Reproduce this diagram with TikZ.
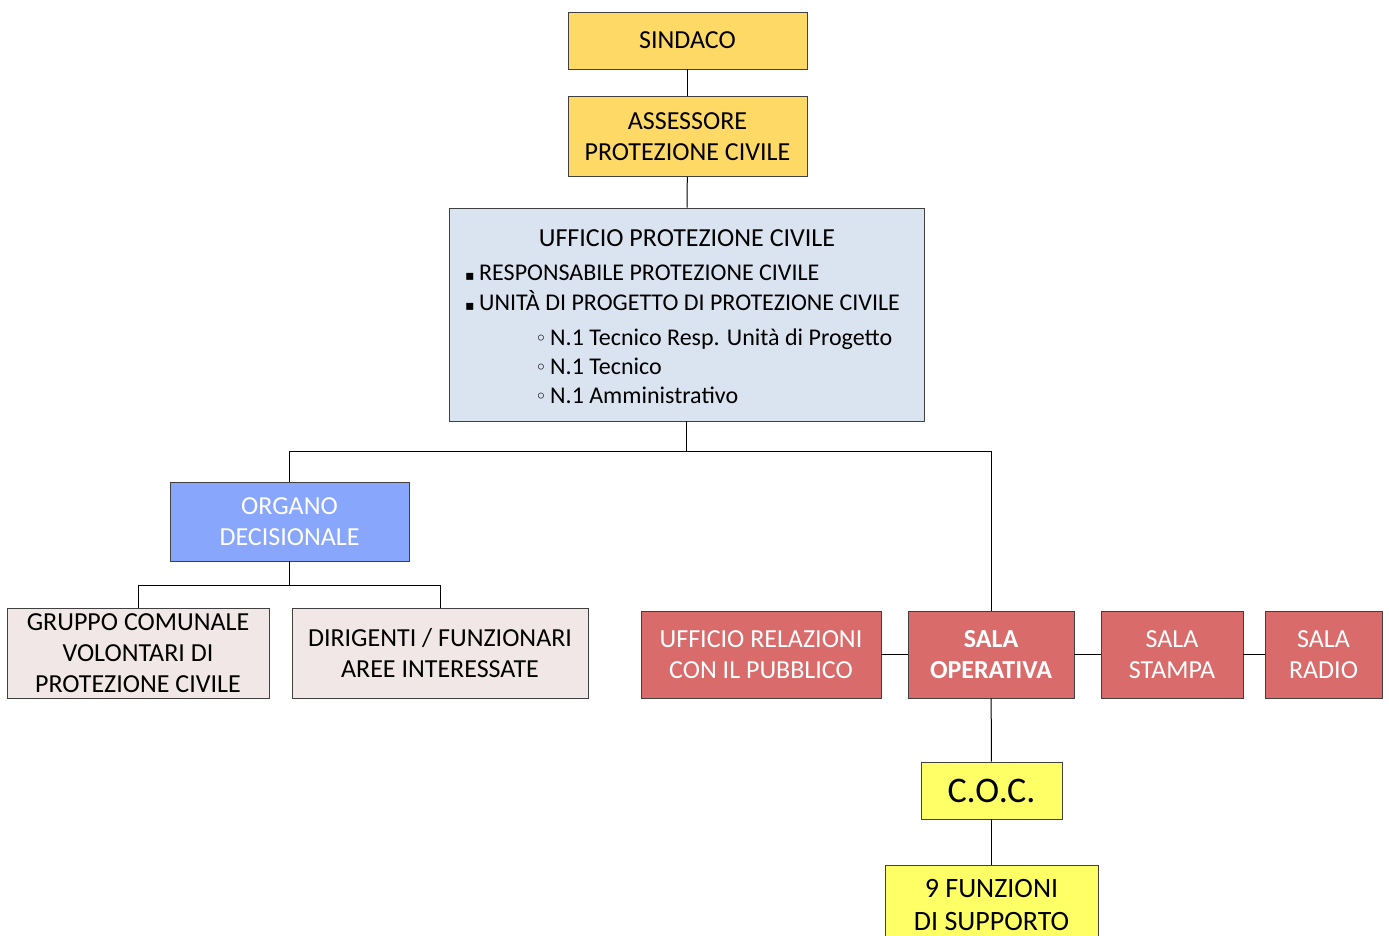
\documentclass[tikz,border=0pt]{standalone}
\usepackage{fontspec}
\setmainfont{Carlito}
\newfontfamily\symfont{DejaVu Sans}
\definecolor{gold}{HTML}{FFD966}
\definecolor{paleblue}{HTML}{DAE3F0}
\definecolor{midblue}{HTML}{88A6FC}
\definecolor{palepink}{HTML}{F2E7E7}
\definecolor{redbox}{HTML}{D96B6B}
\definecolor{lemon}{HTML}{FFFF66}
\newcommand{\bsq}{\makebox[14pt][l]{\symfont\fontsize{14}{14}\selectfont ▪}}
\newcommand{\bci}{\makebox[15pt][l]{\symfont\fontsize{20}{20}\selectfont ◦}}
\begin{document}
\begin{tikzpicture}[x=1pt,y=-1pt,
  box/.style={draw=black!75, line width=0.9pt, inner sep=0pt, align=center,
    font=\fontsize{26}{31}\selectfont},
  txt/.style={inner sep=0pt, font=\fontsize{24}{28}\selectfont},
  conn/.style={draw=black, line width=1pt}]
\useasboundingbox (0,0) rectangle (1389,935);
\fill[white] (0,0) rectangle (1389,935);

\node[box, fill=gold, minimum width=239pt, minimum height=57pt] (sind) at (687.5,40.5) {SINDACO};
\node[box, fill=gold, minimum width=239pt, minimum height=80pt] (ass) at (687.5,136.5) {ASSESSORE\\PROTEZIONE CIVILE};
\node[box, fill=paleblue, minimum width=475pt, minimum height=213pt] (uff) at (686.5,314.5) {};
\node[txt, font=\fontsize{26}{28}\selectfont] (uffT) at (687,238) {UFFICIO PROTEZIONE CIVILE};
\node[txt, anchor=base west] (b1) at (465,280) {\bsq RESPONSABILE PROTEZIONE CIVILE};
\node[txt, anchor=base west] (b2) at (465,310) {\bsq UNITÀ DI PROGETTO DI PROTEZIONE CIVILE};
\node[txt, anchor=base west] (s1) at (535,345) {\bci N.1 Tecnico Resp. Unità di Progetto};
\node[txt, anchor=base west] (s2) at (535,374) {\bci N.1 Tecnico};
\node[txt, anchor=base west] (s3) at (535,403) {\bci N.1 Amministrativo};

\node[box, fill=midblue, text=white, minimum width=239pt, minimum height=79pt] (org) at (289.5,521.5) {ORGANO\\DECISIONALE};
\node[box, fill=palepink, minimum width=262pt, minimum height=90pt] (grp) at (138,653) {GRUPPO COMUNALE\\VOLONTARI DI\\PROTEZIONE CIVILE};
\node[box, fill=palepink, minimum width=296pt, minimum height=90pt] (dir) at (440,653) {DIRIGENTI / FUNZIONARI\\AREE INTERESSATE};

\node[box, fill=redbox, text=white, minimum width=240pt, minimum height=87pt] (urp) at (761,654.5) {UFFICIO RELAZIONI\\CON IL PUBBLICO};
\node[box, fill=redbox, text=white, minimum width=166pt, minimum height=87pt, font=\fontsize{26}{31}\selectfont\bfseries] (op) at (991,654.5) {SALA\\OPERATIVA};
\node[box, fill=redbox, text=white, minimum width=142pt, minimum height=87pt] (stp) at (1172,654.5) {SALA\\STAMPA};
\node[box, fill=redbox, text=white, minimum width=117pt, minimum height=87pt] (rad) at (1323.5,654.5) {SALA\\RADIO};

\node[box, fill=lemon, minimum width=141pt, minimum height=57pt, font=\fontsize{36}{40}\selectfont] (coc) at (991.5,790.5) {C.O.C.};
\node[box, fill=lemon, minimum width=213pt, minimum height=80pt, font=\fontsize{28}{33}\selectfont] (fun) at (991.5,905) {9 FUNZIONI\\DI SUPPORTO};

\coordinate (busA) at (686.5,451);
\coordinate (busB) at (289.5,585);
\draw[conn] (sind) -- (ass);
\draw[conn] (ass) -- (uff);
\draw[conn] (uff.south) -- (busA) -| (org.north);
\draw[conn] (busA) -| (op.north);
\draw[conn] (org.south) -- (busB) -| (grp.north);
\draw[conn] (busB) -| (dir.north);
\draw[conn] (urp) -- (op);
\draw[conn] (op) -- (stp);
\draw[conn] (stp) -- (rad);
\draw[conn] (op) -- (coc);
\draw[conn] (coc) -- (fun);
\end{tikzpicture}
\end{document}
